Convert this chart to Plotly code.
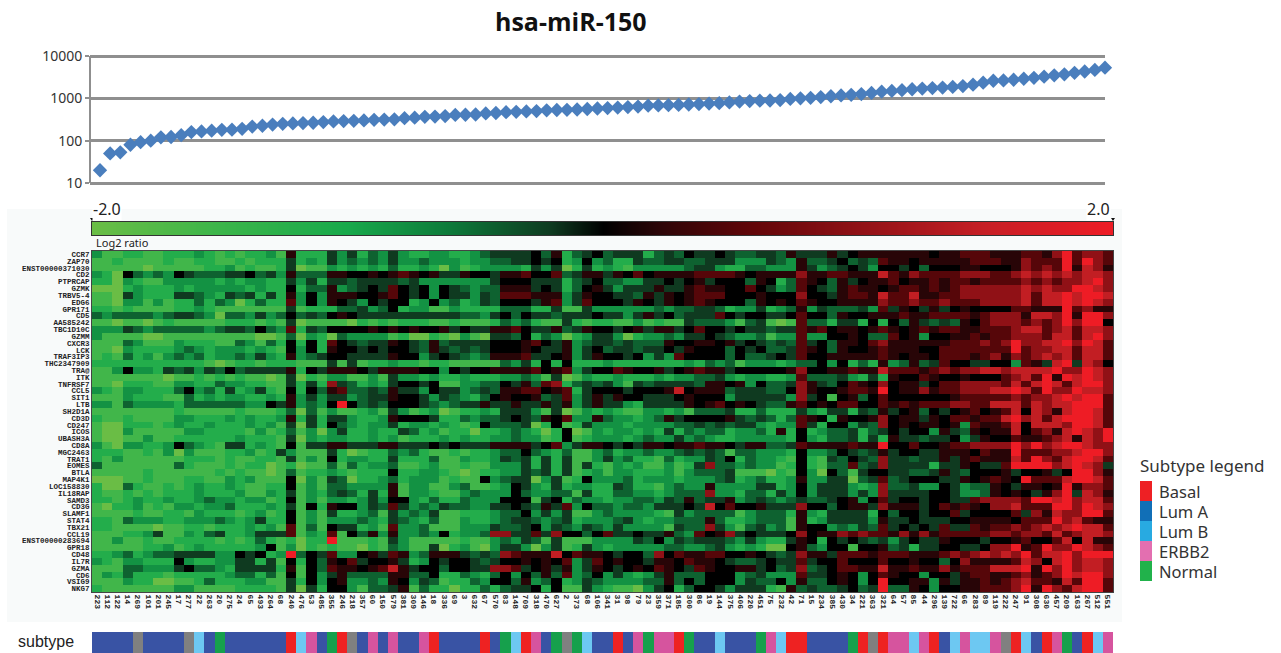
import plotly.graph_objects as go

W, H = 1281, 653

title_text = "hsa-miR-150"

expression = [
    20, 50, 53, 80, 92, 100, 120, 122, 135, 160,
    165, 172, 180, 182, 190, 215, 225, 240, 250, 255,
    260, 265, 275, 285, 290, 295, 300, 310, 315, 320,
    340, 350, 365, 370, 380, 405, 410, 415, 440, 450,
    470, 480, 490, 500, 520, 530, 535, 545, 560, 575,
    590, 605, 620, 640, 670, 680, 690, 700, 715, 730,
    750, 770, 800, 840, 860, 880, 890, 910, 970, 1000,
    1030, 1070, 1120, 1170, 1210, 1260, 1340, 1440, 1500, 1560,
    1640, 1700, 1750, 1800, 1860, 1950, 2100, 2350, 2600, 2650,
    2750, 2900, 3050, 3250, 3500, 3700, 4000, 4300, 4700, 5300,
]

genes = ["CCR7", "ZAP70", "ENST00000371030", "CD2", "PTPRCAP", "GZMK", "TRBV5-4", "EDG6", "GPR171", "CD5",
         "AA585242", "TBC1D10C", "GZMM", "CXCR3", "LCK", "TRAF3IP3", "THC2347909", "TRA@", "ITK", "TNFRSF7",
         "CCL5", "SIT1", "LTB", "SH2D1A", "CD3D", "CD247", "ICOS", "UBASH3A", "CD8A", "MGC2463",
         "TRAT1", "EOMES", "BTLA", "MAP4K1", "LOC158830", "IL18RAP", "SAMD3", "CD3G", "SLAMF1", "STAT4",
         "TBX21", "CCL19", "ENST00000283694", "GPR18", "CD48", "IL7R", "GZMA", "CD6", "VSIG9", "NKG7"]

samples = ["223", "112", "122", "14", "269", "101", "201", "245", "17", "277", "22", "263", "20", "275", "24", "65", "493", "264", "68", "240",
           "476", "53", "485", "355", "246", "218", "357", "60", "150", "579", "381", "309", "146", "18", "336", "69", "3", "632", "67", "570",
           "83", "148", "709", "318", "470", "627", "2", "373", "68", "106", "341", "31", "98", "79", "23", "359", "371", "185", "300", "86",
           "19", "144", "375", "406", "220", "451", "75", "232", "42", "71", "15", "234", "385", "430", "34", "221", "363", "321", "64", "57",
           "85", "44", "296", "139", "722", "66", "283", "89", "119", "222", "247", "91", "308", "630", "457", "209", "163", "267", "512", "551"]

subtype_codes = [
    "A A A A G A A A A G B A N A A A A A A R".split(),
    "B E A N R G A E A E A A E R A A A A R A".split(),
    "N B R E A N G N B A A R A E N E E R N A".split(),
    "A B A A A N E B R R A A A A N R G R E E".split(),
    "B E R A B E B B E G R B A R E N A R B E".split(),
]
subtypes = [c for part in subtype_codes for c in part]
subtype_index = {"R": 0, "A": 1, "B": 2, "E": 3, "N": 4, "G": 5}
subtype_palette = ["#ee2222", "#3953a4", "#6dc8f2", "#d6549e", "#16a04c", "#808080"]

legend_names = ["Basal", "Lum A", "Lum B", "ERBB2", "Normal"]
legend_colors = ["#ee2024", "#116fb7", "#28aae1", "#e36fb0", "#21b24b"]

ratio_key = [-2.0, -1.8, -1.6, -1.4, -1.2, -1.0, -0.8, -0.6, -0.4, -0.2, 0.0,
             0.2, 0.4, 0.6, 0.8, 1.0, 1.2, 1.4, 1.6, 1.8, 2.0]

level_values = {"0": -2.0, "1": -1.55, "2": -1.15, "3": -0.8, "4": -0.45, "5": -0.2,
                "6": 0.0, "7": 0.2, "8": 0.5, "9": 1.0, "Y": 1.45, "X": 2.0}

heat_rows = [
 "3112211222 3212122317 2225352435 3223322345 5556472456 4555245465 5654455475 5575677777 7767788877 78879X8998",
 "1121111211 2211212225 2325343435 3343332334 4556562363 4225445544 5553335437 4456454877 6777778887 79888X8X98",
 "1111101111 1223121125 0113232324 2232031233 3325350252 3213333345 5322443337 5345653665 6466677666 7989 8X7Y97",
 "3206434365 4445564537 4447766767 8767557665 7786684577 5768677778 8887677779 7788777Y87 9888899988 9Y9Y9Y9YY9",
 "2203211333 3323233225 3525545555 4533333335 6665552456 4433556567 5666476248 7647567786 7787887888 8989899YX9",
 "0002322232 3333323226 2447345658 6563654344 7775652467 5355575578 7766865348 6547877678 8787899999 9Y9Y99XXY9",
 "1105322255 4325452527 3637776678 6563655354 8887773576 6554757678 8866676669 6657887Y88 Y778899999 9Y8YYXYXXY",
 "1103313122 4243024228 3637653656 6236342354 6665783586 6657657678 7666476768 7667777988 9889888999 9Y8YYXYXY9",
 "2212111122 3211111115 1222445346 2331132222 4442251153 3333343445 5423352347 3544453857 6575676666 88777X8977",
 "4344443455 4304435346 4546765555 5555554435 6465545556 5535756455 5865665568 6647667778 7788887899 97YY9X7XX9",
 "1101101211 1112221215 0111102121 2221121112 4342115212 2113121154 4431451018 4425526264 7545476899 98989X9XX6",
 "3335434444 4345546438 2546666767 6766756557 7865574576 6567577568 6656554558 7867767876 7878877888 9YY89Y8YY9",
 "3111100111 1111110014 0320433331 2002103105 5462430235 5302334355 6543341338 3366764486 7366778788 9998YY8YX9",
 "1114311132 2211431426 2628654557 6547455556 6678657345 5454447667 7675654548 5647768977 7777888989 X99YYX9XY8",
 "1103222234 3233323216 3627665656 6547545456 6676557356 4554556576 6646564458 7647667877 7668888888 X899YY8YY8",
 "1214231343 4233435327 3456655557 6635654347 7785567357 6656353866 6646445658 6677777876 7768887897 989Y9Y8YY8",
 "2222222222 2101221222 1115151223 2212211111 4352626222 3222222232 4341333234 4636242734 7458665566 3875YX5Y96",
 "1136332545 3546455557 2657776577 7766365667 7778678356 6876675678 7756666679 6677877Y88 8789899YY9 YYYYX99XY9",
 "1111111011 2121211015 0213311315 3323223222 3343150132 2322232334 4532332238 4445325276 6876676668 9Y8X7XYXY9",
 "1102221133 2243322115 2529542325 6656113344 6574892454 5315455554 7767364459 7546876967 7568899998 Y8YXY8YXX9",
 "3213322246 3425235216 2647844547 5536553454 7788678256 6656667Y67 7745554469 7667887X67 7978899 9YY XY8X99XYY9",
 "1113222114 2323322327 3535534557 6653543246 7667458357 5766555676 6635555539 5616746866 6666788888 9899YXYXX8",
 "3314333324 4444433657 3436X64546 6654345575 5755757357 5532555576 7867654478 6768866878 78889988YY Y8Y9YYXXX8",
 "1111111121 1111211124 0413112315 3123012232 5553150132 3211332314 4452242225 3255254756 7465678678 Y6Y97YXXY8",
 "2112111133 2223232237 2525532237 6665224344 5654768337 4332347566 6675454248 7627667967 7576887 88Y X9Y8YXXXY8",
 "1002221232 2322232315 0526432335 2332321264 4450261253 3323333445 4545532338 5266354967 6776738778 Y6YYY9XXY8",
 "1003111113 3222213124 1303522322 5423122022 3432026013 2332325243 4423342726 2344524565 6637547677 Y6897YXY9X",
 "1001131122 2222322215 0323322323 1222323223 3433126123 3323433534 3223333326 3244525275 5455635766 87789Y7Y9X",
 "3103322364 3215523216 1557755577 5556565557 7775683577 6565776778 7765774458 7777877X66 8667889999 X9X9YXXY99",
 "2221121303 1112231253 1115201224 3421121223 4464324113 4233433454 5414433326 3346545756 6557776877 X88899YXX9",
 "2131111112 2212112215 1316233225 2224113223 5452525113 5342214233 5462433216 2154654955 4557578777 Y8X98YXXY8",
 "4111111142 1112122012 0114142334 1123112113 3352525152 1323113125 9443433126 2144845955 5525576558 XXXX9YXY95",
 "1111121111 1121211014 1223212226 2233210122 3354525123 1332223134 4451110216 3064156655 4457546667 566756XX97",
 "0001121112 2113231116 0315402234 2333121163 4550351263 3342333233 3452342237 3355045845 6665576787 6X888YXXY8",
 "2004211212 3223211226 1314433337 1331134112 3653252332 2542213433 7333355236 3555323944 5336534476 57767X7998",
 "2112121222 3222311325 1324542527 1332113433 3643344152 2443323444 9332442536 3555353955 5566533476 76579X5Y97",
 "2212322322 3433233126 1313323536 6324224333 6661562433 2334435474 5573454345 4456736856 6566558999 98XXYX9YY8",
 "1022312133 2334222325 1627663548 5343544335 5654758364 4344355565 Y686675559 6646775977 7568787699 Y888XX9XY9",
 "1111211221 3222123126 1315223415 3435112223 4463535113 4333321534 4441344427 3255552646 6566856666 8597Y99XX8",
 "2214333223 3343235226 1313334325 4324113223 4554345233 3453233444 7422344417 2355553755 6555667777 6888X9Y877",
 "2211110112 2122232318 1416552318 3341113335 4456354354 3533331544 9531453417 6634354856 5658558788 989Y9YXYY8",
 "1112235113 2452235558 1328164737 3343623349 9558596646 8556557438 6795655569 6779898879 7978888899 8998Y89YY9",
 "1131121122 2212124212 022X111215 3111112113 4354151113 3335463545 5543532257 6265654535 6557666566 78668Y6Y77",
 "1111122312 3222223613 0212110214 3115023103 5530351253 2333334433 4532320067 4366166745 2556655699 X78X99XY98",
 "2234234455 553365623X 4658336758 7347775454 98777Y6877 6566496877 8866765459 7758887888 777898 9Y9Y 9X8YYX9XXX",
 "3213322263 2233552516 2647685667 5236566545 6676768358 6766577687 7654456558 5668666866 7664697777 8Y96YX9YY9",
 "1114433356 4432555527 164877678Y 7566466559 9856757357 6567687658 7667756459 4568877Y77 87797888YY YX7X9X9YY9",
 "1324222122 2223442416 1635744447 7446224324 6364748346 3532357444 6663453338 5567636876 6366578877 89789XYXX9",
 "1113220011 2422233115 2636733437 6354122436 6473462354 3333447464 6663544637 4467636X66 7737577878 9Y887Y8XX8",
 "2111111133 1111222215 0526631445 7142202242 4556261153 2110356246 6535552174 5445645X44 7636677888 9X7X98YXX8",
]

heat_z = []
for i, row in enumerate(heat_rows):
    cells = row.replace(" ", "")
    if len(cells) != len(samples):
        raise SystemExit(f"row {i} {genes[i]} has {len(cells)} cells")
    heat_z.append([level_values[c] for c in cells])

if len(subtypes) != len(samples) or len(expression) != len(samples):
    raise SystemExit(f"lengths {len(subtypes)} {len(expression)} {len(samples)}")

ratio_scale = [
    [0.0, "#6abd45"], [0.125, "#3cb54a"], [0.25, "#18a94b"], [0.35, "#0e7a3a"],
    [0.45, "#0f3a20"], [0.5, "#000000"], [0.56, "#300608"], [0.65, "#640609"],
    [0.775, "#9b1419"], [0.875, "#c71f25"], [1.0, "#ee1c25"],
]


def px(x):
    return x / W


def py(y):
    return 1 - y / H


MAIN_FONT = "Noto Sans"
CELL_FONT = "Liberation Mono"
GRID = "#8f8f8f"

fig = go.Figure()

fig.add_trace(go.Scatter(
    x=list(range(len(expression))), y=expression, mode="markers",
    marker=dict(symbol="diamond", size=11, color="#4a7ebd"),
    xaxis="x", yaxis="y", cliponaxis=False, showlegend=False,
))

fig.add_trace(go.Heatmap(
    z=heat_z, x=list(range(len(samples))), y=list(range(len(genes))),
    colorscale=ratio_scale, zmin=-2, zmax=2, xaxis="x2", yaxis="y2",
    showscale=False,
))

fig.add_trace(go.Heatmap(
    z=[[subtype_index[s] for s in subtypes]], x=list(range(len(samples))),
    zmin=0, zmax=5, showscale=False, xaxis="x3", yaxis="y3",
    colorscale=[[v, subtype_palette[i]] for i in range(6)
                for v in (i / 6, (i + 1) / 6)],
))

fig.add_trace(go.Heatmap(
    z=[ratio_key], x=ratio_key, colorscale=ratio_scale, zmin=-2, zmax=2,
    showscale=False, zsmooth="best", xaxis="x4", yaxis="y4",
))

shapes = [
    dict(type="rect", xref="paper", yref="paper", layer="below",
         x0=px(7), x1=px(1122), y0=py(622), y1=py(209),
         fillcolor="#f8fafa", line_width=0),
    dict(type="line", xref="paper", yref="paper", layer="below",
         x0=px(90), x1=px(90), y0=py(183), y1=py(56),
         line=dict(color=GRID, width=2)),
]
annotations = [
    dict(text=title_text, x=px(571), y=py(21), xanchor="center",
         font=dict(family="Open Sans", size=25, color="#111111", weight="bold")),
    dict(text="-2.0", x=px(92), y=py(209), xanchor="left", bgcolor="#ffffff",
         font=dict(family=MAIN_FONT, size=16, color="#222222")),
    dict(text="2.0", x=px(1111), y=py(209), xanchor="right", bgcolor="#ffffff",
         font=dict(family=MAIN_FONT, size=16, color="#222222")),
    dict(text="Log2 ratio", x=px(95), y=py(243), xanchor="left",
         font=dict(family=MAIN_FONT, size=11, color="#222222")),
    dict(text="subtype", x=px(46), y=py(641), xanchor="center",
         font=dict(family="Liberation Sans", size=16, color="#222222")),
    dict(text="Subtype legend", x=px(1139), y=py(465), xanchor="left",
         font=dict(family=MAIN_FONT, size=17, color="#333333")),
]
for i, (name, color) in enumerate(zip(legend_names, legend_colors)):
    top = 481 + 20 * i
    shapes.append(dict(type="rect", xref="paper", yref="paper",
                       x0=px(1140), x1=px(1152), y0=py(top + 20), y1=py(top),
                       fillcolor=color, line_width=0))
    annotations.append(dict(text=name, x=px(1158), y=py(top + 10), xanchor="left",
                            font=dict(family=MAIN_FONT, size=16.5, color="#333333")))
for a in annotations:
    a.update(xref="paper", yref="paper", showarrow=False, borderpad=0, yanchor="middle")

for cx in (92, 1113):
    shapes.append(dict(type="path", xref="paper", yref="paper", fillcolor="#111111", line_width=0,
                       path=f"M {px(cx - 2)} {py(218)} L {px(cx + 2)} {py(218)} L {px(cx)} {py(221)} Z"))

fig.update_layout(
    width=W, height=H, autosize=False, margin=dict(l=0, r=0, t=0, b=0, autoexpand=False),
    paper_bgcolor="#ffffff", plot_bgcolor="rgba(0,0,0,0)", showlegend=False,
    shapes=shapes, annotations=annotations,
    xaxis=dict(domain=[px(90), px(1105)], range=[-0.985, 99], visible=False),
    yaxis=dict(domain=[py(187), py(52)], type="log", range=[0.9055, 4.0945],
               tickvals=[10, 100, 1000, 10000], ticktext=["10", "100", "1000", "10000"],
               gridcolor=GRID, gridwidth=2.5, showline=False,
               ticks="outside", ticklen=4, tickcolor=GRID, tickwidth=2, zeroline=False,
               tickfont=dict(family=MAIN_FONT, size=14, color="#333333")),
    xaxis2=dict(domain=[px(92), px(1113)], range=[-0.5, 99.5], anchor="y2",
                tickmode="array", tickvals=list(range(len(samples))), ticktext=samples,
                tickangle=90, ticks="", showgrid=False, zeroline=False,
                showline=True, linecolor="#444444", linewidth=1, mirror=True,
                tickfont=dict(family=CELL_FONT, size=8, color="#222222", weight="bold")),
    yaxis2=dict(domain=[py(592), py(251)], range=[49.5, -0.5], anchor="x2",
                tickmode="array", tickvals=list(range(len(genes))), ticktext=genes,
                ticks="", showgrid=False, zeroline=False,
                showline=True, linecolor="#444444", linewidth=1, mirror=True,
                tickfont=dict(family=CELL_FONT, size=7.5, color="#222222", weight="bold")),
    xaxis3=dict(domain=[px(92), px(1113)], range=[-0.5, 99.5], anchor="y3", visible=False),
    yaxis3=dict(domain=[py(653), py(632)], range=[-0.5, 0.5], anchor="x3", visible=False),
    xaxis4=dict(domain=[px(92), px(1113)], range=[-2, 2], anchor="y4", showticklabels=False, ticks="",
                showgrid=False, zeroline=False, showline=True, linecolor="#333333", linewidth=1, mirror=True),
    yaxis4=dict(domain=[py(235), py(222)], range=[-0.5, 0.5], anchor="x4", showticklabels=False, ticks="",
                showgrid=False, zeroline=False, showline=True, linecolor="#333333", linewidth=1, mirror=True),
)

fig.write_html("out.html", config={"displayModeBar": False},
               post_script="document.body.style.margin='0';document.documentElement.style.overflow='hidden';")
